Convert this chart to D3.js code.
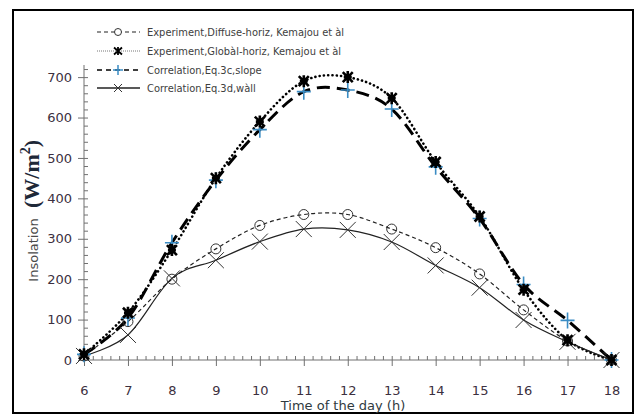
<!DOCTYPE html>
<html>
<head>
<meta charset="utf-8">
<script src="https://cdn.jsdelivr.net/npm/d3@7"></script>
<style>
  html, body { margin: 0; padding: 0; background: #fff; }
  svg { display: block; }
</style>
</head>
<body>
<svg id="chart" width="637" height="417"></svg>
<script>
// Hours of the day (x categories)
const hours = [6, 7, 8, 9, 10, 11, 12, 13, 14, 15, 16, 17, 18];

// Insolation series (W/m2)
const diffuseExp = [10, 95, 200, 275, 333, 360, 360, 324, 278, 213, 124, 47, 0];
const globalExp  = [14, 117, 272, 450, 590, 690, 700, 648, 490, 355, 174, 49, 0];
const slopeCorr  = [14, 104, 290, 445, 570, 664, 668, 621, 478, 350, 187, 98, 0];
const wallCorr   = [10, 62, 202, 247, 293, 324, 322, 292, 234, 179, 99, 45, 0];

// Axis ticks
const yTicks = [0, 100, 200, 300, 400, 500, 600, 700];
const xTicks = hours;

const legendLabels = [
  "Experiment,Diffuse-horiz, Kemajou et àl",
  "Experiment,Globàl-horiz, Kemajou et àl",
  "Correlation,Eq.3c,slope",
  "Correlation,Eq.3d,wàll"
];

const svg = d3.select("#chart");

// Outer frame
svg.append("rect")
  .attr("x", 13).attr("y", 10).attr("width", 620).attr("height", 403)
  .attr("fill", "#fff").attr("stroke", "#000").attr("stroke-width", 2);

const x = d3.scaleLinear().domain([6, 18]).range([84, 611.5]);
const y = d3.scaleLinear().domain([0, 730]).range([360, 65]);

const axisColor = "#707070";
const labelColor = "#3c3040";

// Y axis: major ticks outside, minor ticks inside
const yAxisG = svg.append("g").attr("transform", `translate(${x(6)},0)`);
yAxisG.append("g")
  .call(d3.axisRight(y).tickValues(d3.range(0, 730, 20)).tickSize(4).tickFormat(""))
  .call(g => g.select(".domain").remove());
yAxisG.append("g")
  .call(d3.axisLeft(y).tickValues(yTicks).tickSize(6).tickPadding(6))
  .call(g => g.select(".domain").attr("d", `M0,${y(0)}V${y.range()[1]}`));
yAxisG.selectAll("line").attr("stroke", axisColor);
yAxisG.selectAll(".domain").attr("stroke", axisColor);
yAxisG.selectAll("text")
  .attr("fill", labelColor)
  .style("font-family", "'DejaVu Sans', Verdana, sans-serif")
  .style("font-size", "13px");

// X axis: major ticks outside, minor ticks inside
const xAxisG = svg.append("g").attr("transform", `translate(0,${y(0)})`);
xAxisG.append("g")
  .call(d3.axisTop(x).tickValues(d3.range(6, 18.01, 0.2)).tickSize(4).tickFormat(""))
  .call(g => g.select(".domain").remove());
xAxisG.append("g")
  .call(d3.axisBottom(x).tickValues(xTicks).tickSize(6).tickPadding(20).tickFormat(d3.format("d")))
  .call(g => g.select(".domain").attr("d", `M${x(6)},0H${x(18) + 5}`));
xAxisG.selectAll("line").attr("stroke", axisColor);
xAxisG.selectAll(".domain").attr("stroke", axisColor);
xAxisG.selectAll("text")
  .attr("fill", labelColor)
  .style("font-family", "'DejaVu Sans', Verdana, sans-serif")
  .style("font-size", "13px");

// Axis titles
svg.append("text")
  .attr("x", 343).attr("y", 410)
  .attr("text-anchor", "middle")
  .attr("fill", "#2f3a40")
  .style("font-family", "'DejaVu Sans', Verdana, sans-serif")
  .style("font-size", "13px")
  .text("Time of the day (h)");

const yTitle = svg.append("g").attr("transform", "translate(38,250) rotate(-90)");
yTitle.append("text")
  .attr("x", 0).attr("y", 0)
  .attr("text-anchor", "middle")
  .attr("fill", "#4a4a4a")
  .style("font-family", "'DejaVu Sans', Verdana, sans-serif")
  .style("font-size", "13px")
  .text("Insolation");
const wm = yTitle.append("text")
  .attr("x", 42).attr("y", 1)
  .attr("fill", "#1e2838")
  .style("font-family", "'Liberation Serif', 'Times New Roman', serif")
  .style("font-size", "22px")
  .style("font-weight", "bold");
wm.append("tspan").text("(W/m");
wm.append("tspan").attr("dy", -9).style("font-size", "14px").text("2");
wm.append("tspan").attr("dy", 9).text(")");

// Marker shapes (offsets relative to the point)
const markers = {
  circle: (g, cx, cy) => g.append("circle").attr("cx", cx).attr("cy", cy).attr("r", 5)
      .attr("fill", "none").attr("stroke", "#333").attr("stroke-width", 1),
  star: (g, cx, cy) => g.append("path")
      .attr("d", `M${cx-5},${cy-5}L${cx+5},${cy+5}M${cx-5},${cy+5}L${cx+5},${cy-5}M${cx},${cy-6}V${cy+6}M${cx-4},${cy}H${cx+4}`)
      .attr("fill", "none").attr("stroke", "#000").attr("stroke-width", 2.6),
  plus: (g, cx, cy) => g.append("path")
      .attr("d", `M${cx-7},${cy}H${cx+7}M${cx},${cy-8}V${cy+8}`)
      .attr("fill", "none").attr("stroke", "#3a8cc4").attr("stroke-width", 1.6),
  cross: (g, cx, cy) => g.append("path")
      .attr("d", `M${cx-8},${cy-8}L${cx+8},${cy+8}M${cx-8},${cy+8}L${cx+8},${cy-8}`)
      .attr("fill", "none").attr("stroke", "#333").attr("stroke-width", 1)
};

const series = [
  { name: legendLabels[0], values: diffuseExp, marker: "circle",
    stroke: "#222", width: 1.2, dash: "4,3", legendDash: "4,3", legendWidth: 1.2 },
  { name: legendLabels[1], values: globalExp, marker: "star",
    stroke: "#000", width: 2.6, dash: "0.1,4.2", cap: "round", legendDash: "1,1", legendWidth: 1 },
  { name: legendLabels[2], values: slopeCorr, marker: "plus",
    stroke: "#000", width: 3, dash: "13,7", legendDash: "5,4", legendWidth: 1.5 },
  { name: legendLabels[3], values: wallCorr, marker: "cross",
    stroke: "#222", width: 1.2, dash: null, legendDash: null, legendWidth: 1.5 }
];

const line = d3.line()
  .x((d, i) => x(hours[i]))
  .y(d => y(d))
  .curve(d3.curveCatmullRom.alpha(0));

const plot = svg.append("g");
series.forEach(s => {
  plot.append("path")
    .datum(s.values)
    .attr("d", line)
    .attr("fill", "none")
    .attr("stroke", s.stroke)
    .attr("stroke-width", s.width)
    .attr("stroke-dasharray", s.dash)
    .attr("stroke-linecap", s.cap || "butt");
});
// draw markers on top; global and slope last so they stay visible
[3, 0, 2, 1].forEach(k => {
  const s = series[k];
  const mg = plot.append("g");
  s.values.forEach((v, i) => markers[s.marker](mg, x(hours[i]), y(v)));
});

// Legend
const legend = svg.append("g");
const rowY = [32, 51, 70, 88];
series.forEach((s, i) => {
  const ly = rowY[i];
  legend.append("line")
    .attr("x1", 97).attr("x2", 140).attr("y1", ly).attr("y2", ly)
    .attr("stroke", s.marker === "star" ? "#777" : s.stroke)
    .attr("stroke-width", s.legendWidth)
    .attr("stroke-dasharray", s.legendDash);
  const mg = legend.append("g");
  if (s.marker === "circle") {
    mg.append("circle").attr("cx", 118).attr("cy", ly).attr("r", 3.5)
      .attr("fill", "#fff").attr("stroke", "#333").attr("stroke-width", 1);
  } else if (s.marker === "star") {
    mg.append("path")
      .attr("d", `M114,${ly-3.5}L122,${ly+3.5}M114,${ly+3.5}L122,${ly-3.5}M118,${ly-4}V${ly+4}`)
      .attr("stroke", "#000").attr("stroke-width", 1.8).attr("fill", "none");
  } else if (s.marker === "plus") {
    mg.append("path").attr("d", `M113,${ly}H123M118,${ly-5}V${ly+5}`)
      .attr("stroke", "#3a8cc4").attr("stroke-width", 1.5).attr("fill", "none");
  } else {
    mg.append("path").attr("d", `M114,${ly-4}L122,${ly+4}M114,${ly+4}L122,${ly-4}`)
      .attr("stroke", "#333").attr("stroke-width", 1).attr("fill", "none");
  }
  legend.append("text")
    .attr("x", 147).attr("y", ly + 4)
    .attr("fill", "#404040")
    .style("font-family", "'DejaVu Sans Condensed', 'DejaVu Sans', sans-serif")
    .style("font-size", "11px")
    .text(s.name);
});
</script>
</body>
</html>
